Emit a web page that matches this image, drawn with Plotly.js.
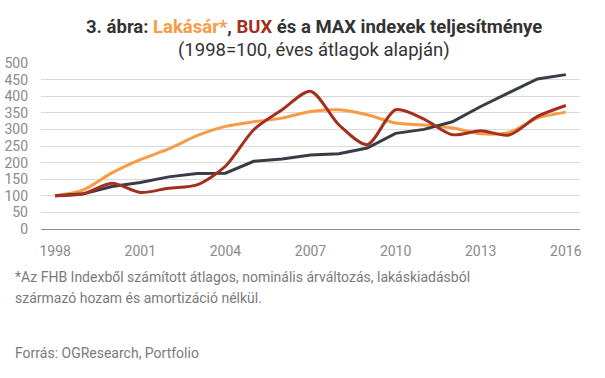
<!DOCTYPE html>
<html>
<head>
<meta charset="utf-8">
<script src="https://cdn.plot.ly/plotly-3.0.1.min.js"></script>
<style>html,body{margin:0;padding:0;background:#fff;}#chart{width:605px;height:378px;}</style>
</head>
<body>
<div id="chart"></div>
<script>
const years = [1998,1999,2000,2001,2002,2003,2004,2005,2006,2007,2008,2009,2010,2011,2012,2013,2014,2015,2016];
const lakasar = [100,118,169,209,241,281,309,323,334,354,359,344,319,313,304,287,291,334,352];
const bux = [100,106,138,110,123,133,189,299,359,415,314,254,359,331,284,296,283,339,372];
const max = [100,106,128,140,157,167,168,204,211,223,227,244,288,300,323,369,411,452,465];
const xTicks = [1998,2001,2004,2007,2010,2013,2016];
const yTicks = [0,50,100,150,200,250,300,350,400,450,500];

const cOrange = '#F99A44', cRed = '#A3301E', cDark = '#383C45';
const traces = [
  {x: years, y: lakasar, type:'scatter', mode:'lines', name:'Lakásár*', line:{color:cOrange, width:3, shape:'spline', smoothing:0.8}},
  {x: years, y: max, type:'scatter', mode:'lines', name:'MAX', line:{color:cDark, width:3}},
  {x: years, y: bux, type:'scatter', mode:'lines', name:'BUX', line:{color:cRed, width:3, shape:'spline', smoothing:0.8}}
];
const font = 'Roboto, Arial, sans-serif';
const layout = {
  width:605, height:378,
  margin:{l:41, r:25, t:63, b:149},
  paper_bgcolor:'#fff', plot_bgcolor:'#fff',
  showlegend:false,
  font:{family:font, color:'#888', size:14},
  xaxis:{range:[1997.5,2016.5], tickvals:xTicks, ticktext:xTicks.map(String), showgrid:false, zeroline:false, showline:false, ticks:'', ticklabelstandoff:12, tickfont:{size:14, color:'#8a8a8a'}, fixedrange:true},
  yaxis:{range:[0,500], tickvals:yTicks, ticktext:yTicks.map(String), showgrid:true, gridcolor:'#d9d9d9', gridwidth:1, zeroline:true, zerolinecolor:'#8c8c8c', zerolinewidth:1, showline:false, ticks:'', ticklabelstandoff:12, tickfont:{size:14, color:'#8a8a8a'}, fixedrange:true},
  annotations:[
    {xref:'paper', yref:'paper', x:0.5, y:1, xshift:3, yshift:36, xanchor:'center', yanchor:'middle', showarrow:false,
     text:'<b>3. ábra: <span style="color:'+cOrange+'">Lakásár*</span>, <span style="color:'+cRed+'">BUX</span> és a MAX indexek teljesítménye</b>', font:{family:font, size:18.5, color:'#333'}},
    {xref:'paper', yref:'paper', x:0.5, y:1, xshift:3, yshift:13, xanchor:'center', yanchor:'middle', showarrow:false,
     text:'(1998=100, éves átlagok alapján)', font:{family:font, size:18.5, color:'#333'}},
    {xref:'paper', yref:'paper', x:0, xshift:-28, y:0, yshift:-48, xanchor:'left', yanchor:'middle', align:'left', showarrow:false,
     text:'*Az FHB Indexből számított átlagos, nominális árváltozás, lakáskiadásból', font:{family:font, size:14, color:'#7a7a7a'}},
    {xref:'paper', yref:'paper', x:0, xshift:-28, y:0, yshift:-69, xanchor:'left', yanchor:'middle', align:'left', showarrow:false,
     text:'származó hozam és amortizáció nélkül.', font:{family:font, size:14, color:'#7a7a7a'}},
    {xref:'paper', yref:'paper', x:0, xshift:-28, y:0, yshift:-124, xanchor:'left', yanchor:'middle', align:'left', showarrow:false,
     text:'Forrás: OGResearch, Portfolio', font:{family:font, size:14, color:'#7a7a7a'}}
  ]
};
Plotly.newPlot('chart', traces, layout, {displayModeBar:false, staticPlot:true});
</script>
</body>
</html>
